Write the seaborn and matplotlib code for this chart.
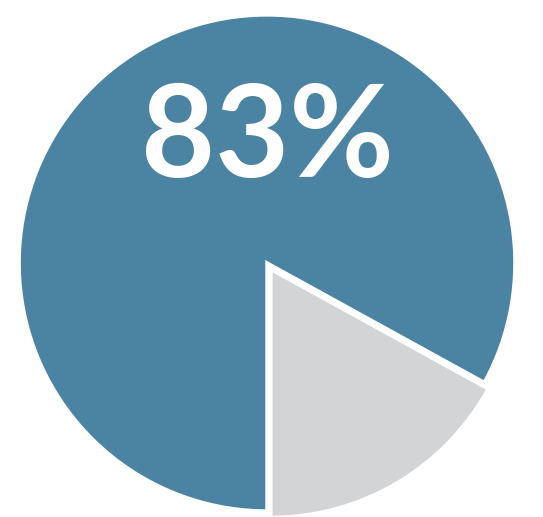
import matplotlib
matplotlib.use("Agg")
import matplotlib.pyplot as plt
import seaborn as sns

labels = ["Other", "Share"]
values = [17, 83]
colors = ["#d3d4d6", "#4b84a3"]
headline = "83%"

sns.set_theme(style="white")
plt.rcParams['font.family'] = ['Lato', 'DejaVu Sans']

fig = plt.figure(figsize=(5.43, 5.17), dpi=100)
ax = fig.add_axes([0, 0, 1, 1])

ax.pie(values, colors=colors, startangle=-90, counterclock=True,
       explode=[0.03, 0], radius=1.0,
       wedgeprops={'edgecolor': 'white', 'linewidth': 2.5})

ax.text(0, 0.495, headline, color='white', fontsize=92, fontweight='bold',
        ha='center', va='center')

ax.set_xlim(-1.077, 1.113)
ax.set_ylim(-1.024, 1.060)
ax.set_aspect('auto')
ax.axis('off')

fig.savefig("out.png", dpi=100, facecolor='white')
